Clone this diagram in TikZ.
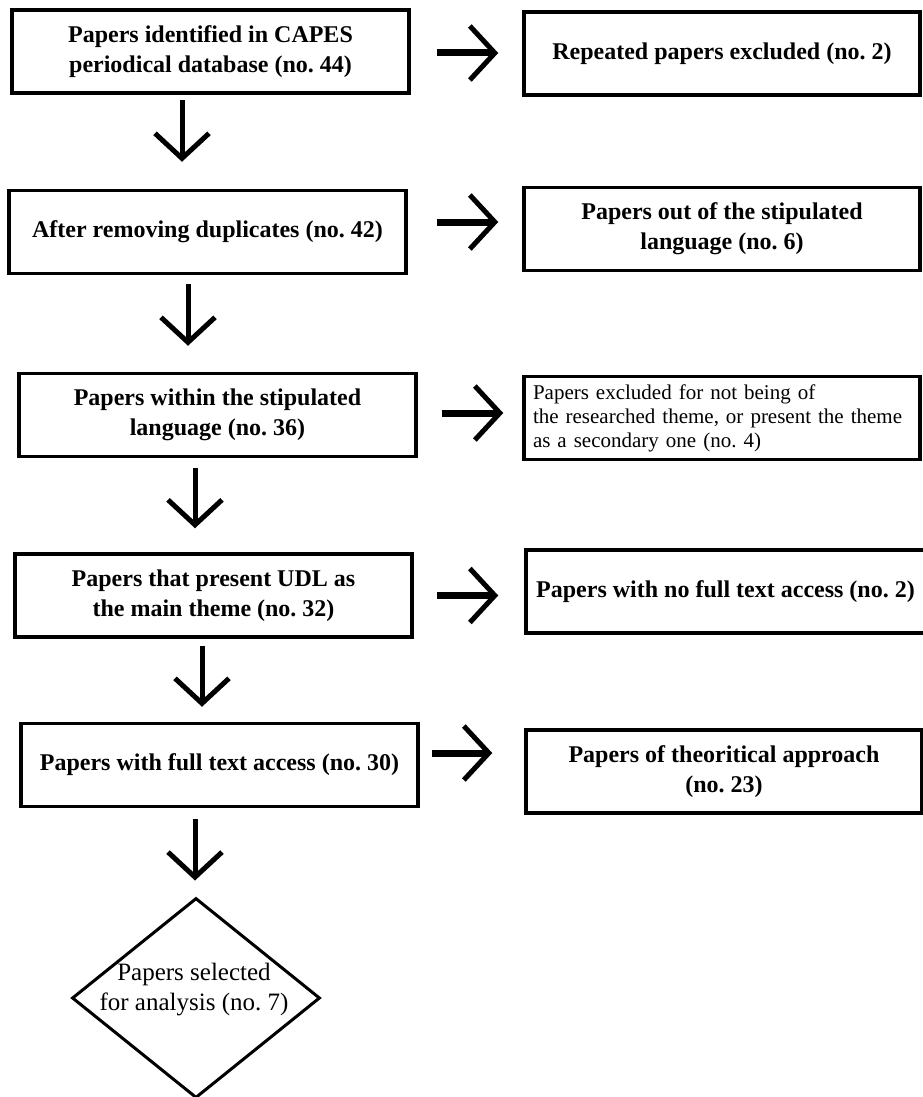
\documentclass[tikz,border=0pt]{standalone}
\usepackage{fontspec}
\setmainfont{Liberation Serif}
\usetikzlibrary{positioning}
\usetikzlibrary{arrows.meta}
\usetikzlibrary{shapes.geometric}
\frenchspacing

\begin{document}
\begin{tikzpicture}[x=1pt, y=-1pt,
        stage/.style={draw, line width=3.5pt, minimum width=397pt, minimum height=83pt,
            inner sep=0pt, align=center, font=\bfseries\fontsize{24}{30}\selectfont},
        note/.style={stage, align=left, text width=378pt, font=\fontsize{21}{24}\selectfont},
        flow/.style={line width=5pt, -{Straight Barb[length=25pt, width=54pt, line width=5pt]}}]
        \useasboundingbox (0,0) rectangle (923,1097);

        % Define the boxes of the main column
        \node[stage] (b1) at (210.5,51.5) {Papers identified in CAPES\\periodical database (no. 44)};
        \node[stage] (b2) at (207.5,232) {After removing duplicates (no. 42)};
        \node[stage] (b3) at (217.5,415) {Papers within the stipulated\\language (no. 36)};
        \node[stage] (b4) at (213.5,595.5) {Papers that present UDL as\\the main theme (no. 32)};
        \node[stage] (b5) at (219.5,765) {Papers with full text access (no. 30)};

        % Define the boxes on the right
        \node[stage, minimum width=396pt] (r1) at (722,53.5) {Repeated papers excluded (no. 2)};
        \node[stage, minimum width=396pt] (r2) at (722,229) {Papers out of the stipulated\\language (no. 6)};
        \node[note, minimum width=396pt] (r3) at (722,418) {Papers excluded for not being of\\the researched theme, or present the theme\\as a secondary one (no. 4)};
        \node[stage, minimum width=399pt] (r4) at (725.5,591.5) {Papers with no full text access (no. 2)};
        \node[stage, minimum width=396pt] (r5) at (724,771.5) {Papers of theoritical approach\\(no. 23)};

        % The final selection
        \node[draw, diamond, line width=3pt, minimum width=248pt, minimum height=200pt, inner sep=0pt] (sel) at (196,998) {};
        \node[inner sep=0pt, align=center, font=\fontsize{25}{30}\selectfont] (seltxt) at (194,990) {Papers selected\\for analysis (no. 7)};

        % Draw the arrows
        \foreach \from/\to/\dx/\s/\e in {b1/b2/-28.5/5/27, b2/b3/-19.5/9/26, b3/b4/-22.5/10/24, b4/b5/-11.5/7/15, b5/sel/-24.5/11/16}
            \draw[flow, shorten <=\s pt, shorten >=\e pt] ([xshift=\dx pt]\from.south) -- ([xshift=\dx pt]\from.south |- \to.north);

        \foreach \from/\to/\dy/\s/\e in {b1/r1/-1.5/26/24, b2/r2/10/29/24, b3/r3/2/24/19, b4/r4/0/23/26, b5/r5/12/12/32}
            \draw[flow, line width=7pt, shorten <=\s pt, shorten >=\e pt] ([yshift=\dy pt]\from.east) -- ([yshift=\dy pt]\from.east -| \to.west);
\end{tikzpicture}
\end{document}
